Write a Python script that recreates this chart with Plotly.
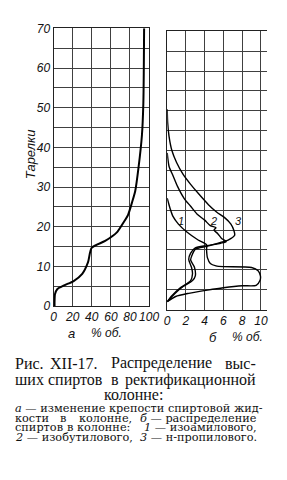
import plotly.graph_objects as go

W, H = 287, 480

# ---- data ----
# panel a: strength of alcohol liquid (% vol) along plates
plate_a = [0, 1, 3, 4.3, 5.2, 6.3, 8.1, 11, 14.7, 16.4, 18.5, 21, 23, 26, 29, 35, 43, 51, 60, 70]
strength_a = [1, 1, 1.5, 4, 11, 21, 30, 36, 40, 54, 66, 73, 78, 82, 85.5, 89, 92.5, 94, 94.5, 94.8]

# panel b: 1 - isoamyl, 2 - isobutyl, 3 - n-propyl
plate_1 = [28, 25.5, 23.5, 21.5, 19.5, 17.5, 16.3, 15, 13, 11.6, 11, 10.8, 10.6, 9.8, 8.5, 7.3, 6.1, 6.0, 5.5, 4.9, 4.1, 3.3, 2]
conc_1 = [0, 0.3, 0.6, 1.2, 2.1, 3.3, 4.2, 4.2, 4.3, 4.6, 5.2, 6.0, 9.0, 9.7, 9.95, 9.9, 9.5, 8.0, 6.0, 4.3, 2.3, 0.9, 0]

plate_2 = [39.4, 36, 33.8, 31, 28, 26, 24, 22.5, 21.1, 20.6, 20.0, 19.1, 17.9, 17.1, 16.7, 16.1, 15.5, 14.2, 12.6, 10.6, 9, 7.3, 5.3, 3.5, 2]
conc_2 = [0, 0.2, 0.6, 1.1, 1.8, 2.5, 3.2, 4.0, 4.6, 5.2, 5.0, 5.4, 5.8, 6.3, 5.7, 4.2, 3.0, 2.5, 2.3, 2.6, 2.7, 2.5, 1.3, 0.5, 0]

plate_3 = [50.4, 47, 43.5, 40, 37, 34, 31.5, 29, 26.4, 24.5, 23.2, 21.5, 20, 18.7, 17.5, 16.9, 16.4, 15.9, 15.2, 14, 12.5, 10.7, 8.5, 7.3, 5.8, 4, 2]
conc_3 = [0, 0.05, 0.2, 0.5, 1.0, 1.7, 2.5, 3.4, 4.4, 5.3, 6.1, 6.8, 7.1, 7.2, 6.5, 5.7, 5.0, 4.2, 3.0, 2.7, 2.5, 2.9, 3.0, 2.7, 1.7, 0.8, 0]

curve_labels = ["1", "2", "3"]
curve_label_x = [1.5, 4.9, 7.6]
curve_label_y = [22.4, 22.4, 22.4]

ticks_a = [0, 20, 40, 60, 80, 100]
ticks_b = [0, 2, 4, 6, 8, 10]
plate_grid = [0, 5, 10, 15, 20, 25, 30, 35, 40, 45, 50, 55, 60, 65, 70]
plate_text = [str(v) if v % 10 == 0 else "" for v in plate_grid]


def px(x):
    return x / W


def py(y):
    return 1 - y / H


fig = go.Figure()
fig.add_trace(go.Scatter(x=strength_a, y=plate_a, mode="lines",
                         line=dict(color="black", width=2, shape="spline", smoothing=0.7),
                         xaxis="x", yaxis="y", showlegend=False, hoverinfo="skip"))
for xs, ys in [(conc_1, plate_1), (conc_2, plate_2), (conc_3, plate_3)]:
    fig.add_trace(go.Scatter(x=xs, y=ys, mode="lines",
                             line=dict(color="black", width=1.4, shape="spline", smoothing=0.7),
                             xaxis="x2", yaxis="y2", showlegend=False, hoverinfo="skip"))

tickfont = dict(family="Liberation Sans", size=12, color="#111", style="italic")
common = dict(showgrid=True, gridcolor="#404040", gridwidth=1, zeroline=False,
              showline=True, linecolor="#222", linewidth=1, ticks="", layer="below traces")

fig.update_layout(
    width=W, height=H, margin=dict(l=0, r=0, t=0, b=0, pad=0), autosize=False,
    paper_bgcolor="white", plot_bgcolor="rgba(0,0,0,0)",
    xaxis=dict(domain=[px(53), px(153)], range=[0, 100], tickmode="array",
               tickvals=ticks_a, ticktext=[str(v) for v in ticks_a],
               tickfont=tickfont, mirror=True, anchor="y", **common),
    yaxis=dict(domain=[py(308), py(22)], range=[0, 70], tickmode="array",
               tickvals=plate_grid, ticktext=plate_text,
               tickfont=tickfont, mirror=True, anchor="x", **common),
    xaxis2=dict(domain=[px(172), px(277)], range=[0, 10.7], tickmode="array",
                tickvals=ticks_b, ticktext=[str(v) for v in ticks_b],
                tickfont=tickfont, mirror=True, anchor="y2", **common),
    yaxis2=dict(domain=[py(311.7), py(25)], range=[0, 70], tickmode="array",
                tickvals=plate_grid, ticktext=["" for _ in plate_grid],
                mirror=False, anchor="x2", **common),
)

ann = []


def A(text, x, y, size, family="Liberation Serif", xanchor="left", angle=0, italic=False):
    ann.append(dict(text=text, x=px(x), y=py(y), xref="paper", yref="paper",
                    xanchor=xanchor, yanchor="middle", showarrow=False, textangle=angle,
                    font=dict(family=family, size=size, color="#111",
                              style="italic" if italic else "normal")))


# axis titles
A("а", 72, 336, 13, family="Liberation Sans", xanchor="center", italic=True)
A("% об.", 108, 336, 12, family="Liberation Sans", xanchor="center", italic=True)
A("б", 220, 340, 13, family="Liberation Sans", xanchor="center", italic=True)
A("% об.", 256, 340, 12, family="Liberation Sans", xanchor="center", italic=True)
A("Тарелки", 29, 152, 13, family="Liberation Sans", xanchor="center", angle=-90, italic=True)

# curve labels
for t, cx, cy in zip(curve_labels, curve_label_x, curve_label_y):
    ann.append(dict(text=t, x=cx, y=cy, xref="x2", yref="y2", showarrow=False,
                    font=dict(family="Liberation Sans", size=11, color="#111", style="italic")))

# caption (justified lines placed word by word)
big = 16
A("Рис.", 10.7, 367, big)
A("XII-17.", 47, 367, big)
A("Распределение", 111, 367, big)
A("выс-", 267, 367, big, xanchor="right")
A("ших", 10.7, 384, big)
A("спиртов", 45, 384, big)
A("в", 111, 384, big)
A("ректификационной", 267, 384, big, xanchor="right")
A("колонне:", 137, 399, big, xanchor="center")

sm = 11.3
sf = "DejaVu Serif"
A("<i>а</i> — изменение крепости спиртовой жид-", 10, 414, sm, family=sf)
A("кости", 10, 424, sm, family=sf)
A("в", 58, 424, sm, family=sf)
A("колонне,", 78, 424, sm, family=sf)
A("<i>б</i> — распределение", 268, 424, sm, family=sf, xanchor="right")
A("спиртов", 10, 433.5, sm, family=sf)
A("в", 65, 433.5, sm, family=sf)
A("колонне:", 75, 433.5, sm, family=sf)
A("<i>1</i> — изоамилового,", 268, 433.5, sm, family=sf, xanchor="right")
A("<i>2</i> — изобутилового,", 10, 443, sm, family=sf)
A("<i>3</i> — н-пропилового.", 268, 443, sm, family=sf, xanchor="right")

fig.update_layout(annotations=ann)
fig.write_html("out.html")
